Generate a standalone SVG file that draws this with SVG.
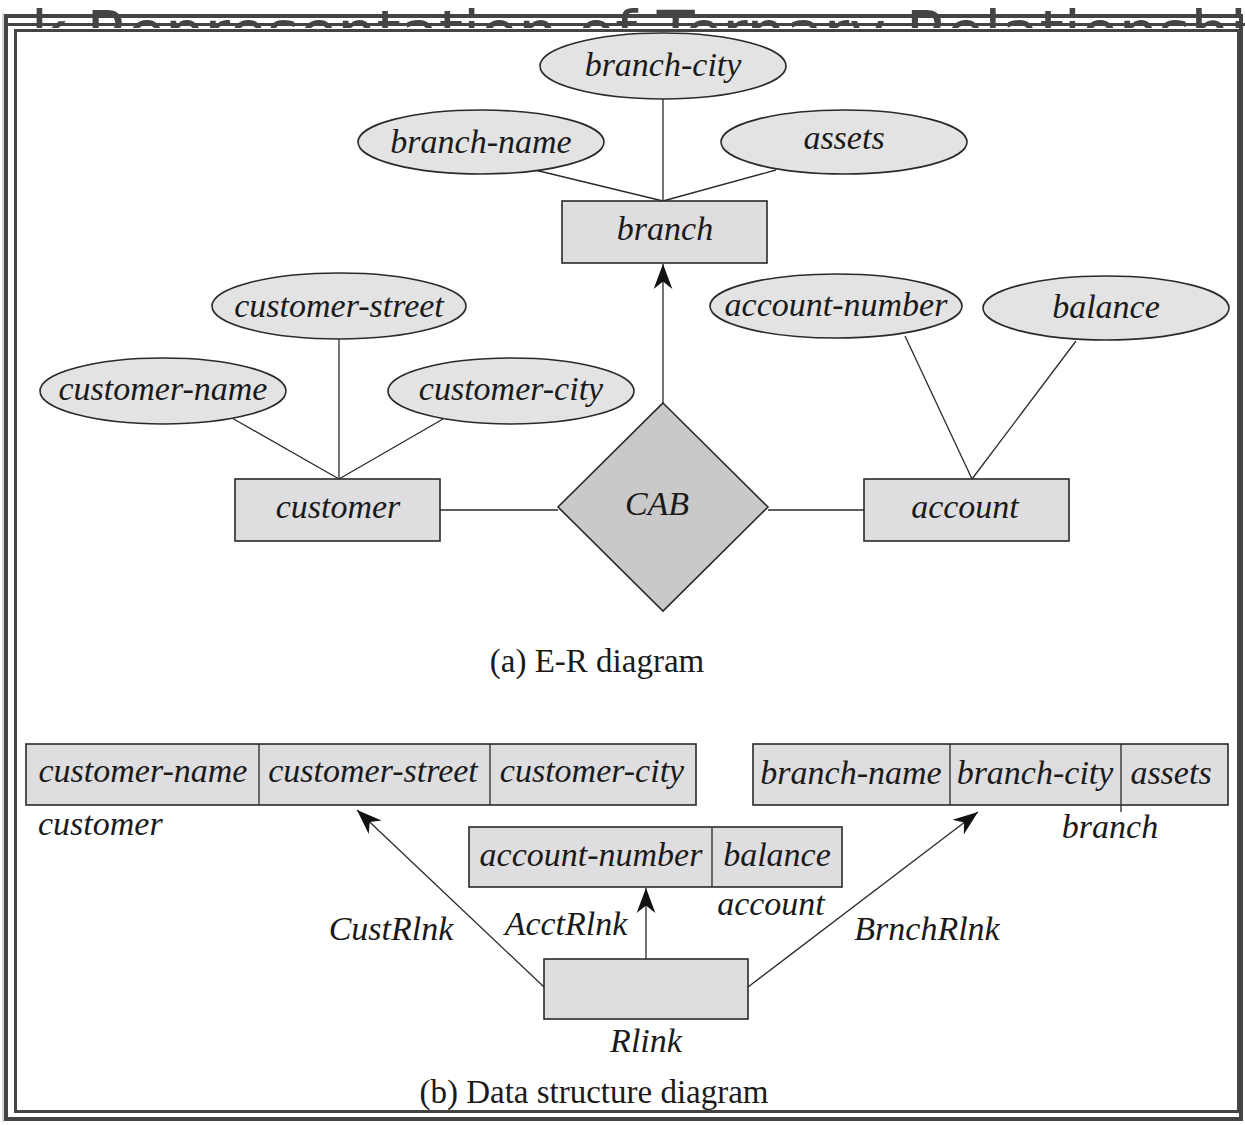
<svg xmlns="http://www.w3.org/2000/svg" width="1245" height="1125" viewBox="0 0 1245 1125">
<style>
.lbl{font-family:"Liberation Serif","Times New Roman",serif;font-style:italic;font-size:34px;fill:#1a1a1a;text-anchor:middle}
.cap{font-family:"Liberation Serif","Times New Roman",serif;font-size:33px;fill:#1a1a1a;text-anchor:middle}
.box{fill:#dedddf;stroke:#2a2a2a;stroke-width:1.6}
.ell{fill:#e3e3e3;stroke:#2a2a2a;stroke-width:1.6}
.ln{stroke:#2a2a2a;stroke-width:1.3;fill:none}
.frame{fill:none;stroke:#444}
</style>
<defs>
<marker id="ah" markerUnits="userSpaceOnUse" markerWidth="30" markerHeight="30" viewBox="-22 -11 24 22" refX="0" refY="0" orient="auto">
<path d="M0,0 L-20,-7.5 L-14,0 L-20,7.5 Z" fill="#111"/>
</marker>
<clipPath id="tclip"><rect x="0" y="0" width="1245" height="28"/></clipPath>
</defs>
<rect width="1245" height="1125" fill="#fff"/>
<text x="31" y="55" clip-path="url(#tclip)" font-family="DejaVu Sans,sans-serif" font-size="62" fill="#444">k Representation of Ternary Relationship</text>
<g id="frame">
<rect class="frame" x="6" y="16" width="1235" height="1103" stroke-width="4"/>
<line x1="6" y1="24.5" x2="1245" y2="24.5" stroke="#444" stroke-width="3"/>
<rect class="frame" x="15.5" y="30.5" width="1223" height="1081" stroke-width="3"/>
<line x1="3" y1="13" x2="3" y2="1122" stroke="#aaa" stroke-width="1"/>
</g>
<g id="connectors">
<line class="ln" x1="663" y1="99" x2="663" y2="201"/>
<line class="ln" x1="535" y1="170" x2="663" y2="201"/>
<line class="ln" x1="776" y1="170" x2="663" y2="201"/>
<line class="ln" x1="663" y1="403" x2="663" y2="264" marker-end="url(#ah)"/>
<line class="ln" x1="339" y1="339" x2="339" y2="479"/>
<line class="ln" x1="232" y1="418" x2="339" y2="479"/>
<line class="ln" x1="443" y1="419" x2="339" y2="479"/>
<line class="ln" x1="905" y1="336" x2="972" y2="479"/>
<line class="ln" x1="1076" y1="341" x2="972" y2="479"/>
<line class="ln" x1="440" y1="510" x2="558" y2="510"/>
<line class="ln" x1="768" y1="510" x2="864" y2="510"/>
<line class="ln" x1="544" y1="987" x2="357" y2="810" marker-end="url(#ah)"/>
<line class="ln" x1="646" y1="959" x2="646" y2="888" marker-end="url(#ah)"/>
<line class="ln" x1="748" y1="987" x2="978" y2="812" marker-end="url(#ah)"/>
<text class="lbl" x="391" y="940">CustRlnk</text>
<text class="lbl" x="566" y="935">AcctRlnk</text>
<text class="lbl" x="927" y="940">BrnchRlnk</text>
</g>
<g id="branch-city"><ellipse class="ell" cx="663" cy="66" rx="123" ry="33"/><text class="lbl" x="663" y="76">branch-city</text></g>
<g id="branch-name"><ellipse class="ell" cx="481" cy="142" rx="123" ry="32"/><text class="lbl" x="481" y="153">branch-name</text></g>
<g id="assets"><ellipse class="ell" cx="844" cy="142" rx="123" ry="32"/><text class="lbl" x="844" y="149">assets</text></g>
<g id="branch"><rect class="box" x="562" y="201" width="205" height="62"/><text class="lbl" x="665" y="240">branch</text></g>
<g id="customer-street"><ellipse class="ell" cx="339" cy="306" rx="127" ry="33"/><text class="lbl" x="339" y="317">customer-street</text></g>
<g id="customer-name"><ellipse class="ell" cx="163" cy="391" rx="123" ry="33"/><text class="lbl" x="163" y="400">customer-name</text></g>
<g id="customer-city"><ellipse class="ell" cx="511" cy="391" rx="123" ry="33"/><text class="lbl" x="511" y="400">customer-city</text></g>
<g id="customer"><rect class="box" x="235" y="479" width="205" height="62"/><text class="lbl" x="338" y="518">customer</text></g>
<g id="account-number"><ellipse class="ell" cx="836" cy="306" rx="126" ry="32"/><text class="lbl" x="836" y="316">account-number</text></g>
<g id="balance"><ellipse class="ell" cx="1106" cy="308" rx="123" ry="32"/><text class="lbl" x="1106" y="318">balance</text></g>
<g id="account"><rect class="box" x="864" y="479" width="205" height="62"/><text class="lbl" x="965" y="518">account</text></g>
<g id="CAB"><polygon points="663,403 768,507 663,611 558,507" fill="#c9c9c9" stroke="#2a2a2a" stroke-width="1.6"/><text class="lbl" x="657" y="515">CAB</text></g>
<text class="cap" x="597" y="672">(a) E-R diagram</text>
<g id="customer-rec">
<rect class="box" x="26" y="744" width="670" height="61"/>
<line class="ln" x1="259" y1="744" x2="259" y2="805"/>
<line class="ln" x1="490" y1="744" x2="490" y2="805"/>
<text class="lbl" x="143" y="782">customer-name</text>
<text class="lbl" x="373" y="782">customer-street</text>
<text class="lbl" x="592" y="782">customer-city</text>
<text class="lbl" x="38" y="835" style="text-anchor:start">customer</text>
</g>
<g id="branch-rec">
<rect class="box" x="753" y="744" width="475" height="61"/>
<line class="ln" x1="950" y1="744" x2="950" y2="805"/>
<line class="ln" x1="1121" y1="744" x2="1121" y2="812"/>
<text class="lbl" x="851" y="784">branch-name</text>
<text class="lbl" x="1035" y="784">branch-city</text>
<text class="lbl" x="1171" y="784">assets</text>
<text class="lbl" x="1110" y="838">branch</text>
</g>
<g id="account-rec">
<rect class="box" x="469" y="827" width="373" height="60"/>
<line class="ln" x1="712" y1="827" x2="712" y2="887"/>
<text class="lbl" x="591" y="866">account-number</text>
<text class="lbl" x="777" y="866">balance</text>
<text class="lbl" x="771" y="915">account</text>
</g>
<g id="Rlink">
<rect class="box" x="544" y="959" width="204" height="60"/>
<text class="lbl" x="646" y="1052">Rlink</text>
</g>
<text class="cap" x="594" y="1103">(b) Data structure diagram</text>
</svg>
